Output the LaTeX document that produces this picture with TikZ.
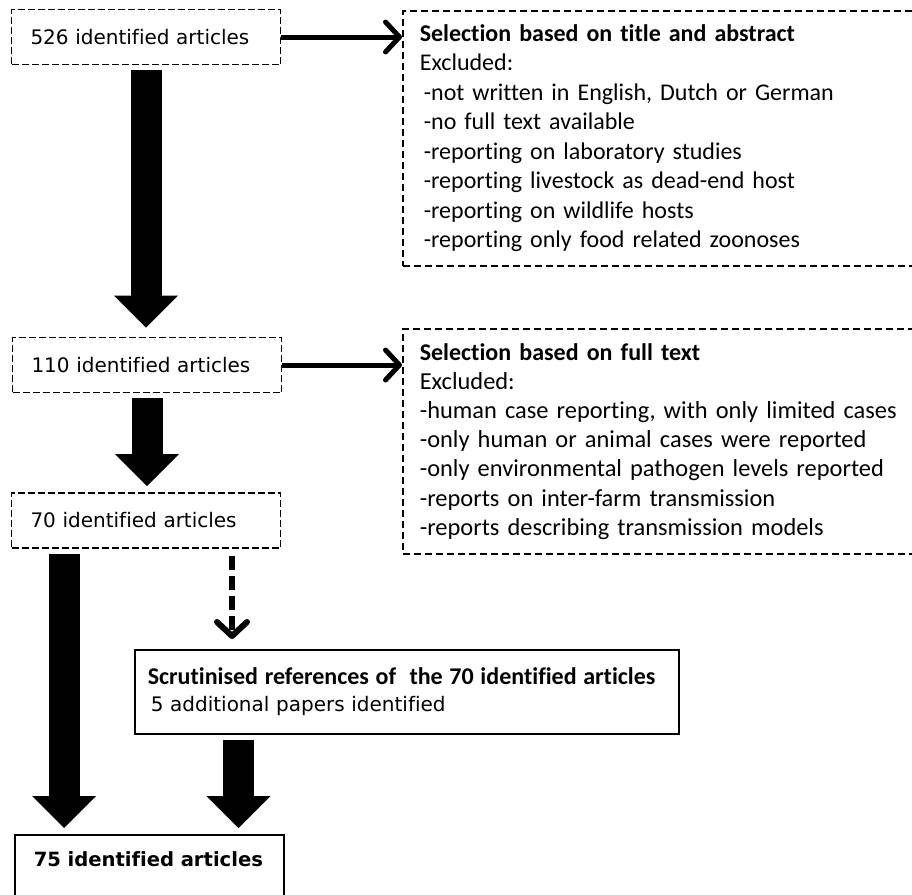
\documentclass[tikz,border=0pt]{standalone}
\usepackage{fontspec}
\setmainfont[Ligatures=NoCommon]{DejaVu Sans}
\newfontfamily\calfont[Ligatures=NoCommon]{Carlito}
\usetikzlibrary{arrows.meta}
\begin{document}
\begin{tikzpicture}[x=1pt,y=-1pt,
  leftbox/.style={draw, dash pattern=on 7pt off 3pt, line width=1.7pt, minimum height=55pt,
    text width=231pt, inner xsep=19pt, inner ysep=0pt, align=left, font=\fontsize{20}{24}\selectfont},
  exclbox/.style={draw, dash pattern=on 7pt off 4pt, line width=1.6pt, text width=500pt,
    inner xsep=17pt, inner ysep=0pt, align=left, anchor=north west},
  solidbox/.style={draw, line width=1.5pt, align=left, anchor=north west},
  thinarrow/.style={line width=5pt, -{Straight Barb[length=14pt,width=30pt,round]}},
  dasharrow/.style={line width=6pt, dash pattern=on 14pt off 6pt,
    -{Straight Barb[length=14pt,width=30pt,round]}},
  blockarrow/.style={line width=31pt, -{Triangle[length=32pt,width=64pt,line width=0pt]},
    shorten <=5pt, shorten >=6pt},
  boxtitle/.style={font=\bfseries\fontsize{24}{29.5}\selectfont},
]
\useasboundingbox (0,0) rectangle (912,894);
\clip (0,0) rectangle (912,894);

% left column boxes
\node[leftbox] (b526) at (146,37) {526 identified articles};
\node[leftbox] (b110) at (147,365) {110 identified articles};
\node[leftbox] (b70) at (146,520.5) {70 identified articles};

% exclusion boxes (open to the right edge)
\node[exclbox, minimum height=255pt, font=\calfont\fontsize{24}{29.5}\selectfont] (sel1) at (402,10)
  {{\bfseries Selection based on title and abstract}\\
   Excluded:\\
   \hspace*{4pt}-not written in English, Dutch or German\\
   \hspace*{4pt}-no full text available\\
   \hspace*{4pt}-reporting on laboratory studies\\
   \hspace*{4pt}-reporting livestock as dead-end host\\
   \hspace*{4pt}-reporting on wildlife hosts\\
   \hspace*{4pt}-reporting only food related zoonoses};

\node[exclbox, minimum height=225pt, font=\calfont\fontsize{24.4}{29.2}\selectfont] (sel2) at (402,328)
  {{\bfseries\fontsize{24}{29.2}\selectfont Selection based on full text}\\
   Excluded:\\
   -human case reporting, with only limited cases\\
   -only human or animal cases were reported\\
   -only environmental pathogen levels reported\\
   -reports on inter-farm transmission\\
   -reports describing transmission models};

% scrutinised references box
\node[solidbox, minimum width=544pt, minimum height=84pt, text width=518pt, inner xsep=13pt,
  inner ysep=0pt, font=\fontsize{20}{27}\selectfont] (scr) at (134,649)
  {{\calfont\bfseries\fontsize{24}{27}\selectfont Scrutinised references of\ \ the 70 identified articles}\\
   \hspace*{3pt}5 additional papers identified};

% final box (open at the bottom edge)
\node[solidbox, text width=231pt, inner xsep=19pt, inner ysep=17pt, text depth=40pt,
  font=\bfseries\fontsize{19.6}{24}\selectfont] (b75) at (14,834) {\mbox{75 identified articles}};

% connectors
\draw[thinarrow] (b526.east) -- (b526.east -| sel1.west);
\draw[thinarrow] (b110.east) -- (b110.east -| sel2.west);

\draw[blockarrow, shorten >=9pt] (b526.south) -- (b526.south |- b110.north);
\draw[blockarrow] (b110.south) -- (b110.south |- b70.north);

\coordinate (l3) at ([xshift=53.5pt]b70.south west);
\draw[blockarrow] (l3) -- (l3 |- b75.north);

\coordinate (d1) at ([xshift=86pt]b70.south);
\draw[dasharrow, shorten <=7pt, shorten >=10pt] (d1) -- (d1 |- scr.north);

\coordinate (r4) at ([xshift=104.5pt]scr.south west);
\draw[blockarrow] (r4) -- (r4 |- b75.north);
\end{tikzpicture}
\end{document}
